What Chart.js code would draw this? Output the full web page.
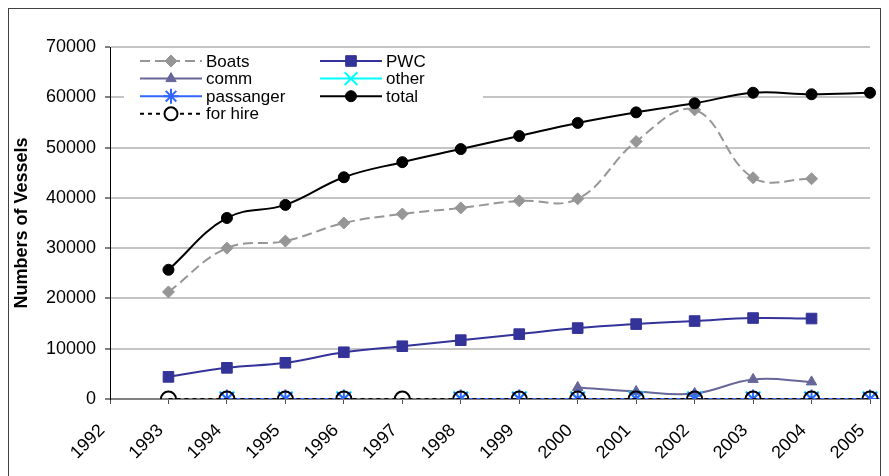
<!DOCTYPE html>
<html>
<head>
<meta charset="utf-8">
<script src="https://cdn.jsdelivr.net/npm/chart.js@4.4.0/dist/chart.umd.min.js"></script>
<style>
  html, body { margin: 0; padding: 0; background: #fff; overflow: hidden; }
</style>
</head>
<body>
<canvas id="chart" width="889" height="476"></canvas>
<script>
const years = ['1992', '1993', '1994', '1995', '1996', '1997', '1998', '1999', '2000', '2001', '2002', '2003', '2004', '2005']
const boats = [null, 21300, 30000, 31400, 35000, 36800, 38000, 39400, 39800, 51200, 57500, 44000, 43800, null]
const pwc = [null, 4400, 6200, 7200, 9300, 10500, 11700, 12900, 14100, 14900, 15500, 16100, 16000, null]
const comm = [null, null, null, null, null, null, null, null, 2300, 1500, 1100, 3900, 3400, null]
const other = [null, null, 0, 0, 0, null, 0, 0, 0, 0, 0, 0, 0, 0]
const passanger = [null, null, 0, 0, 0, null, 0, 0, 0, 0, 0, 0, 0, 0]
const total = [null, 25700, 36000, 38600, 44100, 47100, 49700, 52300, 54900, 57000, 58800, 60900, 60600, 60900]
const forHire = [null, 0, 0, 0, 0, 0, 0, 0, 0, 0, 0, 0, 0, 0]

const FONT = "'Liberation Sans', Arial, sans-serif"

function series(label, data, color, style, radius, extra) {
  return Object.assign({
    label: label,
    data: data,
    borderColor: color,
    backgroundColor: color,
    borderWidth: 2,
    pointStyle: style,
    pointRadius: radius,
    pointHoverRadius: radius,
    pointBackgroundColor: color,
    pointBorderColor: color,
    pointBorderWidth: 1,
    tension: 0.4,
    spanGaps: false,
  }, extra || {})
}

// Excel-style two column legend drawn over the plot
const legendBox = {
  id: 'legendBox',
  afterDraw(chart) {
    const ctx = chart.ctx
    ctx.save()
    ctx.fillStyle = '#fff'
    ctx.fillRect(124, 50, 359, 74)
    chart.data.datasets.forEach((ds, i) => {
      const col = i % 2
      const row = Math.floor(i / 2)
      const x0 = col ? 320 : 140
      const y = 61 + row * 17.6
      ctx.strokeStyle = ds.borderColor
      ctx.lineWidth = ds.borderWidth
      ctx.setLineDash(ds.borderDash || [])
      ctx.beginPath()
      ctx.moveTo(x0, y)
      ctx.lineTo(x0 + 62, y)
      ctx.stroke()
      ctx.setLineDash([])
      ctx.fillStyle = ds.legendFill || ds.pointBackgroundColor
      ctx.strokeStyle = ds.pointBorderColor
      ctx.lineWidth = ds.pointBorderWidth
      Chart.helpers.drawPoint(ctx, {
        pointStyle: ds.pointStyle,
        radius: ds.legendRadius || ds.pointRadius,
        borderWidth: ds.pointBorderWidth,
        rotation: 0,
      }, x0 + 31, y)
      ctx.fillStyle = '#000'
      ctx.font = '17px ' + FONT
      ctx.textBaseline = 'middle'
      ctx.textAlign = 'left'
      ctx.fillText(ds.label, x0 + 66, y + 1)
    })
    ctx.restore()
  },
}

const frame = {
  id: 'frame',
  beforeDraw(chart) {
    const ctx = chart.ctx
    ctx.save()
    ctx.fillStyle = '#fff'
    ctx.fillRect(0, 0, chart.width, chart.height)
    ctx.strokeStyle = '#404040'
    ctx.lineWidth = 1
    ctx.strokeRect(8.5, 8.5, 872, 500)
    ctx.restore()
  },
}

new Chart(document.getElementById('chart'), {
  type: 'line',
  data: {
    labels: years,
    datasets: [
      series('Boats', boats, '#969696', 'rectRot', 6, { borderDash: [10, 5], order: 7 }),
      series('PWC', pwc, '#333399', 'rect', 7.5, { order: 6 }),
      series('comm', comm, '#666699', 'triangle', 6, { order: 5 }),
      series('other', other, '#00FFFF', 'crossRot', 10.5, { pointBorderWidth: 2, legendRadius: 9, order: 4 }),
      series('passanger', passanger, '#3366FF', 'star', 9.5, { pointBorderWidth: 2, legendRadius: 7.5, order: 3 }),
      series('total', total, '#000000', 'circle', 5.5, { order: 2 }),
      series('for hire', forHire, '#000000', 'circle', 7.5, {
        borderDash: [4, 4],
        pointBackgroundColor: 'rgba(255,255,255,0)',
        legendFill: '#fff',
        legendRadius: 6.5,
        pointBorderWidth: 2,
        order: 1,
      }),
    ],
  },
  options: {
    responsive: false,
    animation: false,
    layout: { padding: { top: 47, right: 19, left: 0, bottom: 0 } },
    plugins: {
      legend: { display: false },
      tooltip: { enabled: false },
    },
    scales: {
      x: {
        type: 'category',
        offset: false,
        grid: { display: true, drawOnChartArea: false, drawTicks: true, tickLength: 5, tickColor: '#505050', lineWidth: 1 },
        border: { display: true, color: '#808080', width: 2 },
        ticks: {
          autoSkip: false,
          maxRotation: 45,
          minRotation: 45,
          color: '#000',
          font: { family: FONT, size: 18 },
          padding: 16,
          labelOffset: -8,
        },
        afterFit(scale) {
          scale.height = 77
          scale.paddingLeft = 0
          scale.paddingRight = 0
        },
      },
      y: {
        min: 0,
        max: 70000,
        ticks: {
          stepSize: 10000,
          color: '#000',
          font: { family: FONT, size: 18 },
          padding: 9,
          callback: (v) => String(v),
        },
        grid: { color: '#c4c4c4', lineWidth: 2, tickColor: '#000', tickWidth: 1, tickLength: 5 },
        border: { display: true, color: '#000', width: 1 },
        title: {
          display: true,
          text: 'Numbers of Vessels',
          color: '#000',
          font: { family: FONT, size: 18, weight: 'bold' },
          padding: { top: 11, bottom: 0 },
        },
        afterFit(scale) { scale.width = 110 },
      },
    },
  },
  plugins: [frame, legendBox],
})
</script>
</body>
</html>
